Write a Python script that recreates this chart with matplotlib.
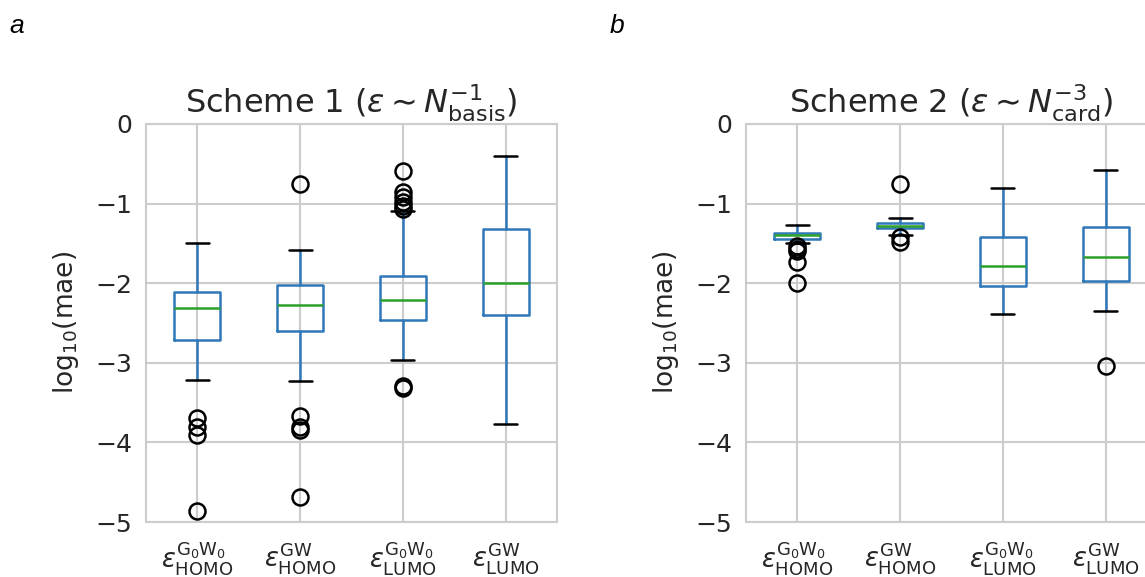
import matplotlib
matplotlib.use("Agg")
import matplotlib.pyplot as plt
import seaborn as sns

# x tick labels (same for both panels)
labels = [r"$\varepsilon^{\mathrm{G_0W_0}}_{\mathrm{HOMO}}$",
          r"$\varepsilon^{\mathrm{GW}}_{\mathrm{HOMO}}$",
          r"$\varepsilon^{\mathrm{G_0W_0}}_{\mathrm{LUMO}}$",
          r"$\varepsilon^{\mathrm{GW}}_{\mathrm{LUMO}}$"]

# Scheme 1 (eps ~ N_basis^-1), values are log10(mae)
s1_whishi = [-1.49, -1.585, -1.09, -0.40]
s1_q3 = [-2.11, -2.02, -1.91, -1.32]
s1_med = [-2.31, -2.28, -2.21, -2.00]
s1_q1 = [-2.71, -2.60, -2.46, -2.40]
s1_whislo = [-3.22, -3.23, -2.96, -3.77]
s1_fliers = [[-3.69, -3.81, -3.91, -4.86],
             [-0.75, -3.67, -3.81, -3.85, -4.69],
             [-0.59, -0.86, -0.92, -0.98, -1.03, -1.07, -3.29, -3.32],
             []]

# Scheme 2 (eps ~ N_card^-3)
s2_whishi = [-1.275, -1.18, -0.80, -0.575]
s2_q3 = [-1.375, -1.25, -1.42, -1.30]
s2_med = [-1.40, -1.28, -1.79, -1.67]
s2_q1 = [-1.44, -1.31, -2.03, -1.97]
s2_whislo = [-1.50, -1.40, -2.39, -2.35]
s2_fliers = [[-1.53, -1.57, -1.60, -1.74, -2.00],
             [-0.75, -1.42, -1.48],
             [],
             [-3.04]]


def make_stats(whishi, q3, med, q1, whislo, fliers):
    out = []
    for i in range(len(med)):
        out.append(dict(whishi=whishi[i], q3=q3[i], med=med[i], q1=q1[i],
                        whislo=whislo[i], fliers=fliers[i], label=labels[i]))
    return out


sns.set_style("whitegrid")
plt.rcParams["font.family"] = ["DejaVu Sans"]
plt.rcParams["axes.edgecolor"] = "#cccccc"
plt.rcParams["grid.color"] = "#cccccc"
plt.rcParams["grid.linewidth"] = 1.5
plt.rcParams["axes.linewidth"] = 1.5

fig = plt.figure(figsize=(11.45, 5.77), dpi=100)
ax1 = fig.add_axes([0.1275, 0.0953, 0.359, 0.690])
ax2 = fig.add_axes([0.6515, 0.0953, 0.359, 0.690])

blue = "#2f78b9"
panels = [
    (ax1, make_stats(s1_whishi, s1_q3, s1_med, s1_q1, s1_whislo, s1_fliers),
     r"Scheme 1 ($\varepsilon \sim N_{\mathrm{basis}}^{-1}$)", "a"),
    (ax2, make_stats(s2_whishi, s2_q3, s2_med, s2_q1, s2_whislo, s2_fliers),
     r"Scheme 2 ($\varepsilon \sim N_{\mathrm{card}}^{-3}$)", "b"),
]

for ax, stats, title, tag in panels:
    ax.bxp(stats, positions=[1, 2, 3, 4], widths=0.45, showfliers=True,
           boxprops=dict(color=blue, linewidth=1.8),
           whiskerprops=dict(color=blue, linewidth=1.8),
           capprops=dict(color="black", linewidth=1.8),
           medianprops=dict(color="#2ca02c", linewidth=1.8),
           flierprops=dict(marker="o", markerfacecolor="none",
                           markeredgecolor="black", markersize=11.5,
                           markeredgewidth=1.8))
    ax.set_xlim(0.5, 4.5)
    ax.set_ylim(-5, 0)
    ax.set_yticks([0, -1, -2, -3, -4, -5])
    ax.grid(True, axis="both")
    ax.tick_params(axis="y", labelsize=18, colors="#262626", length=0, pad=10)
    ax.tick_params(axis="x", labelsize=18.5, colors="#262626", length=0, pad=13)
    for sp in ax.spines.values():
        sp.set_color("#cccccc")
    ax.set_ylabel(r"log$_{10}$(mae)", fontsize=19, color="#262626", labelpad=10)
    ax.set_title(title, fontsize=23, color="#262626", pad=8)

# panel tags
fig.text(0.008, 0.955, "a", fontsize=19, fontstyle="italic", color="black",
         family="Liberation Sans", ha="left", va="center")
fig.text(0.532, 0.955, "b", fontsize=19, fontstyle="italic", color="black",
         family="Liberation Sans", ha="left", va="center")

fig.savefig("out.png", dpi=100)
